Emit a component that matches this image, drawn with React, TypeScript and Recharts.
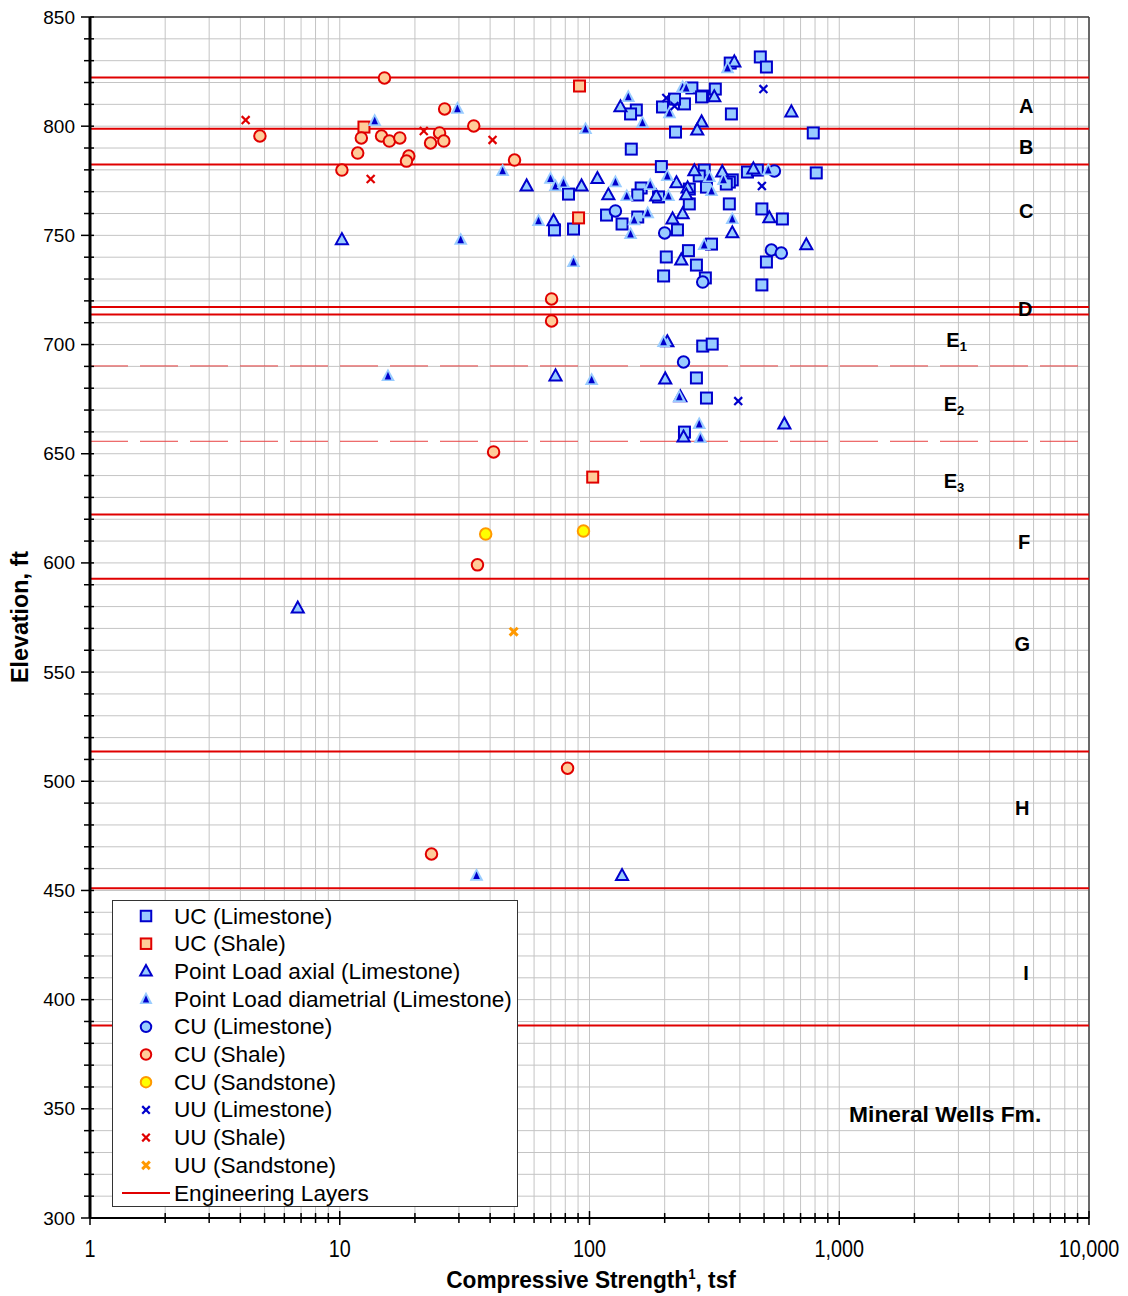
import React from 'react';
import {
  ScatterChart,
  Scatter,
  XAxis,
  YAxis,
  CartesianGrid,
  ReferenceLine,
  ReferenceDot,
} from 'recharts';

type Pt = { x: number; y: number };

// ---------- data (x: compressive strength, tsf; y: elevation, ft) ----------
const ucLimestone: Pt[] = [
  { x: 483, y: 831.7 }, { x: 511, y: 827.1 }, { x: 366, y: 828.9 }, { x: 319, y: 817.0 },
  { x: 284, y: 813.8 }, { x: 257, y: 817.5 }, { x: 281, y: 813.4 }, { x: 240, y: 810.2 },
  { x: 219, y: 812.4 }, { x: 196, y: 808.8 }, { x: 154, y: 807.4 }, { x: 146, y: 805.6 },
  { x: 370, y: 805.6 }, { x: 221, y: 797.3 }, { x: 787, y: 796.9 }, { x: 147, y: 789.5 },
  { x: 194, y: 781.5 }, { x: 809, y: 778.6 }, { x: 429, y: 779.0 }, { x: 470, y: 779.9 },
  { x: 288, y: 779.9 }, { x: 275, y: 777.2 }, { x: 373, y: 775.4 }, { x: 363, y: 774.4 },
  { x: 161, y: 771.7 }, { x: 82.4, y: 768.9 }, { x: 156, y: 768.5 }, { x: 189, y: 767.6 },
  { x: 251, y: 771.2 }, { x: 251, y: 764.4 }, { x: 294, y: 772.1 }, { x: 353, y: 773.5 },
  { x: 363, y: 764.4 }, { x: 117, y: 759.3 }, { x: 135, y: 755.2 }, { x: 156, y: 758.4 },
  { x: 225, y: 752.5 }, { x: 86.3, y: 752.9 }, { x: 72.4, y: 752.5 }, { x: 490, y: 762.1 },
  { x: 592, y: 757.5 }, { x: 203, y: 740.1 }, { x: 249, y: 743.0 }, { x: 268, y: 736.4 },
  { x: 198, y: 731.4 }, { x: 291, y: 730.5 }, { x: 308, y: 746.0 }, { x: 511, y: 737.8 },
  { x: 490, y: 727.3 }, { x: 284, y: 699.3 }, { x: 310, y: 700.2 }, { x: 268, y: 684.7 },
  { x: 294, y: 675.5 }, { x: 240, y: 659.9 },
];

const ucShale: Pt[] = [
  { x: 91.2, y: 818.4 }, { x: 12.5, y: 799.6 }, { x: 90.4, y: 758.0 }, { x: 103, y: 639.3 },
];

const plAxial: Pt[] = [
  { x: 10.2, y: 748.0 }, { x: 6.79, y: 579.3 }, { x: 56.0, y: 772.6 }, { x: 92.9, y: 772.6 },
  { x: 71.8, y: 756.6 }, { x: 133, y: 808.8 }, { x: 281, y: 801.9 }, { x: 270, y: 798.2 },
  { x: 316, y: 813.4 }, { x: 643, y: 806.5 }, { x: 107.6, y: 776.0 }, { x: 119, y: 768.5 },
  { x: 223, y: 774.0 }, { x: 247, y: 771.7 }, { x: 244, y: 768.5 }, { x: 185, y: 768.0 },
  { x: 263, y: 779.5 }, { x: 340, y: 779.0 }, { x: 453, y: 780.4 }, { x: 525, y: 758.0 },
  { x: 373, y: 751.1 }, { x: 236, y: 759.8 }, { x: 215, y: 757.5 }, { x: 233, y: 738.7 },
  { x: 738, y: 745.6 }, { x: 380, y: 829.4 }, { x: 201, y: 684.2 }, { x: 205, y: 701.2 },
  { x: 231, y: 676.0 }, { x: 238, y: 657.6 }, { x: 603, y: 663.6 }, { x: 73.1, y: 685.6 },
  { x: 135, y: 456.8 },
];

const plDiametrial: Pt[] = [
  { x: 13.8, y: 802.4 }, { x: 29.6, y: 808.0 }, { x: 44.9, y: 779.5 }, { x: 69.8, y: 776.0 },
  { x: 73.1, y: 772.6 }, { x: 78.7, y: 774.0 }, { x: 62.5, y: 756.6 }, { x: 30.5, y: 748.0 },
  { x: 86.3, y: 737.8 }, { x: 96.4, y: 798.7 }, { x: 143, y: 813.4 }, { x: 163, y: 801.5 },
  { x: 209, y: 806.0 }, { x: 236, y: 817.9 }, { x: 357, y: 826.6 }, { x: 127, y: 774.4 },
  { x: 141, y: 768.0 }, { x: 175, y: 773.1 }, { x: 205, y: 777.2 }, { x: 207, y: 768.0 },
  { x: 302, y: 776.7 }, { x: 308, y: 770.3 }, { x: 344, y: 775.4 }, { x: 373, y: 757.5 },
  { x: 151, y: 757.0 }, { x: 146, y: 750.6 }, { x: 171, y: 760.2 }, { x: 288, y: 745.6 },
  { x: 520, y: 779.9 }, { x: 244, y: 817.5 }, { x: 198, y: 701.2 }, { x: 102, y: 683.8 },
  { x: 229, y: 676.0 }, { x: 275, y: 663.6 }, { x: 278, y: 657.2 }, { x: 15.6, y: 685.6 },
  { x: 35.3, y: 456.8 },
];

const cuLimestone: Pt[] = [
  { x: 550, y: 779.5 }, { x: 127, y: 761.2 }, { x: 200, y: 751.1 }, { x: 535, y: 743.3 },
  { x: 586, y: 741.9 }, { x: 284, y: 728.6 }, { x: 238, y: 692.0 },
];

const cuShale: Pt[] = [
  { x: 15.1, y: 822.1 }, { x: 4.79, y: 795.5 }, { x: 10.2, y: 779.9 }, { x: 11.8, y: 787.7 },
  { x: 12.2, y: 794.6 }, { x: 14.7, y: 795.5 }, { x: 15.8, y: 793.2 }, { x: 17.4, y: 794.6 },
  { x: 18.9, y: 786.3 }, { x: 18.5, y: 784.0 }, { x: 23.1, y: 792.3 }, { x: 25.1, y: 796.9 },
  { x: 26.3, y: 807.9 }, { x: 26.1, y: 793.2 }, { x: 34.4, y: 800.1 }, { x: 50.1, y: 784.5 },
  { x: 70.5, y: 720.9 }, { x: 70.5, y: 710.8 }, { x: 41.3, y: 650.8 }, { x: 35.6, y: 599.1 },
  { x: 81.7, y: 506.0 }, { x: 23.3, y: 466.7 },
];

const cuSandstone: Pt[] = [
  { x: 38.4, y: 613.2 }, { x: 94.6, y: 614.6 },
];

const uuLimestone: Pt[] = [
  { x: 203, y: 812.9 }, { x: 219, y: 809.2 }, { x: 497, y: 817.0 }, { x: 490, y: 772.6 },
  { x: 394, y: 674.1 },
];

const uuShale: Pt[] = [
  { x: 4.2, y: 802.8 }, { x: 13.3, y: 775.8 }, { x: 21.7, y: 797.8 }, { x: 40.9, y: 793.7 },
];

const uuSandstone: Pt[] = [{ x: 49.7, y: 568.5 }];

const layerSolid: number[] = [822.3, 798.8, 782.4, 717.2, 713.8, 622.2, 592.8, 513.6, 451.0, 388.2];
const layerDashed: number[] = [690.2, 655.7];

const layerLabels = [
  { text: 'A', sub: '', x: 5600, y: 809.2 },
  { text: 'B', sub: '', x: 5600, y: 790.5 },
  { text: 'C', sub: '', x: 5600, y: 761.2 },
  { text: 'D', sub: '', x: 5550, y: 716.3 },
  { text: 'E', sub: '1', x: 2950, y: 702.0 },
  { text: 'E', sub: '2', x: 2880, y: 673.0 },
  { text: 'E', sub: '3', x: 2880, y: 637.5 },
  { text: 'F', sub: '', x: 5500, y: 609.6 },
  { text: 'G', sub: '', x: 5400, y: 562.9 },
  { text: 'H', sub: '', x: 5400, y: 487.7 },
  { text: 'I', sub: '', x: 5600, y: 412.0 },
];

const formationLabel = { text: 'Mineral Wells Fm.', x: 2655, y: 347.6 };

const xTicks: number[] = [
  1, 2, 3, 4, 5, 6, 7, 8, 9,
  10, 20, 30, 40, 50, 60, 70, 80, 90,
  100, 200, 300, 400, 500, 600, 700, 800, 900,
  1000, 2000, 3000, 4000, 5000, 6000, 7000, 8000, 9000,
  10000,
];
const xTickLabels: Record<number, string> = { 1: '1', 10: '10', 100: '100', 1000: '1,000', 10000: '10,000' };

const yTicks: number[] = [
  300, 310, 320, 330, 340, 350, 360, 370, 380, 390,
  400, 410, 420, 430, 440, 450, 460, 470, 480, 490,
  500, 510, 520, 530, 540, 550, 560, 570, 580, 590,
  600, 610, 620, 630, 640, 650, 660, 670, 680, 690,
  700, 710, 720, 730, 740, 750, 760, 770, 780, 790,
  800, 810, 820, 830, 840, 850,
];
const yTickLabels: number[] = [300, 350, 400, 450, 500, 550, 600, 650, 700, 750, 800, 850];

const legendItems = [
  { kind: 'sqBlue', label: 'UC (Limestone)' },
  { kind: 'sqRed', label: 'UC (Shale)' },
  { kind: 'triAxial', label: 'Point Load axial (Limestone)' },
  { kind: 'triDiam', label: 'Point Load diametrial (Limestone)' },
  { kind: 'circBlue', label: 'CU (Limestone)' },
  { kind: 'circRed', label: 'CU (Shale)' },
  { kind: 'circYellow', label: 'CU (Sandstone)' },
  { kind: 'xBlue', label: 'UU (Limestone)' },
  { kind: 'xRed', label: 'UU (Shale)' },
  { kind: 'xOrange', label: 'UU (Sandstone)' },
  { kind: 'line', label: 'Engineering Layers' },
];

// ---------- styles ----------
const BLUE = '#0000cc';
const LBLUE = '#99ccff';
const RED = '#e00000';
const PEACH = '#ffcc99';
const YELLOW = '#ffff00';
const ORANGE = '#ff9900';
const SANS = '"Liberation Sans", Arial, sans-serif';

function marker(kind: string, cx: number, cy: number, s: number) {
  switch (kind) {
    case 'sqBlue':
      return <rect x={cx - s / 2} y={cy - s / 2} width={s} height={s} fill={LBLUE} stroke={BLUE} strokeWidth={2} />;
    case 'sqRed':
      return <rect x={cx - s / 2} y={cy - s / 2} width={s} height={s} fill={PEACH} stroke={RED} strokeWidth={2} />;
    case 'triAxial': {
      const w = s * 1.1;
      const h = s;
      return (
        <polygon
          points={`${cx},${cy - h * 0.6} ${cx - w / 2},${cy + h * 0.4} ${cx + w / 2},${cy + h * 0.4}`}
          fill={LBLUE}
          stroke={BLUE}
          strokeWidth={2}
          strokeLinejoin="miter"
        />
      );
    }
    case 'triDiam': {
      const w = s * 1.25;
      const h = s * 1.15;
      const w2 = s * 0.6;
      const h2 = s * 0.55;
      return (
        <g>
          <polygon
            points={`${cx},${cy - h * 0.6} ${cx - w / 2},${cy + h * 0.4} ${cx + w / 2},${cy + h * 0.4}`}
            fill={LBLUE}
          />
          <polygon
            points={`${cx},${cy - h2 * 0.6 - 0.5} ${cx - w2 / 2},${cy + h2 * 0.4 + 1} ${cx + w2 / 2},${cy + h2 * 0.4 + 1}`}
            fill={BLUE}
          />
        </g>
      );
    }
    case 'circBlue':
      return <circle cx={cx} cy={cy} r={s / 2} fill={LBLUE} stroke={BLUE} strokeWidth={2} />;
    case 'circRed':
      return <circle cx={cx} cy={cy} r={s / 2} fill={PEACH} stroke={RED} strokeWidth={2} />;
    case 'circYellow':
      return <circle cx={cx} cy={cy} r={s / 2} fill={YELLOW} stroke={ORANGE} strokeWidth={2} />;
    case 'xBlue':
    case 'xRed':
    case 'xOrange': {
      const c = kind === 'xBlue' ? BLUE : kind === 'xRed' ? RED : ORANGE;
      const d = s * 0.36;
      return (
        <g stroke={c} strokeWidth={kind === 'xOrange' ? 3 : 2.2}>
          <line x1={cx - d} y1={cy - d} x2={cx + d} y2={cy + d} />
          <line x1={cx - d} y1={cy + d} x2={cx + d} y2={cy - d} />
        </g>
      );
    }
    default:
      return null;
  }
}

const shapeOf = (kind: string, s: number) => (props: any) => {
  const { cx, cy } = props;
  if (cx == null || cy == null) return <g />;
  return marker(kind, cx, cy, s);
};

const XTick = (props: any) => {
  const { x, y, payload } = props;
  const v = payload.value as number;
  const label = xTickLabels[v];
  const major = label !== undefined;
  return (
    <g>
      <line x1={x} x2={x} y1={y - (major ? 7 : 5)} y2={y + (major ? 7 : 5)} stroke="#000" strokeWidth={1.5} />
      {major && (
        <text
          transform={`translate(${x},${y + 31}) scale(0.86,1)`}
          x={0}
          y={0}
          textAnchor="middle"
          dominantBaseline="central"
          fontFamily={SANS}
          fontSize={23}
          fill="#000"
        >
          {label}
        </text>
      )}
    </g>
  );
};

const YTick = (props: any) => {
  const { x, y, payload } = props;
  const v = payload.value as number;
  const major = yTickLabels.includes(v);
  return (
    <g>
      <line x1={x - (major ? 9 : 6)} x2={x + 4} y1={y} y2={y} stroke="#000" strokeWidth={1.5} />
      {major && (
        <text x={x - 15} y={y} textAnchor="end" dominantBaseline="central" fontFamily={SANS} fontSize={19} fill="#000">
          {v}
        </text>
      )}
    </g>
  );
};

const layerLabelShape = (text: string, sub: string) => (props: any) => {
  const { cx, cy } = props;
  return (
    <text x={cx} y={cy} textAnchor="middle" dominantBaseline="central" fontFamily={SANS} fontWeight="bold" fontSize={20} fill="#000">
      <tspan>{text}</tspan>
      {sub && (
        <tspan fontSize={13} dy={6}>
          {sub}
        </tspan>
      )}
    </text>
  );
};

const formationShape = (props: any) => {
  const { cx, cy } = props;
  return (
    <text x={cx} y={cy} textAnchor="middle" dominantBaseline="central" fontFamily={SANS} fontWeight="bold" fontSize={22.8} fill="#000">
      {formationLabel.text}
    </text>
  );
};

const LegendBox = () => {
  const w = 406;
  const h = 307;
  const rowH = 27.7;
  return (
    <div style={{ position: 'absolute', left: 112, top: 900, width: w, height: h }}>
      <svg width={w} height={h}>
        <rect x={0.5} y={0.5} width={w - 1} height={h - 1} fill="#fff" stroke="#333" strokeWidth={1} />
        {legendItems.map((it, i) => {
          const cy = 16 + i * rowH;
          return (
            <g key={it.label}>
              {it.kind === 'line' ? (
                <line x1={10} x2={58} y1={cy} y2={cy} stroke={RED} strokeWidth={2} />
              ) : (
                marker(it.kind, 34, cy, 10.5)
              )}
              <text x={62} y={cy} dominantBaseline="central" fontFamily={SANS} fontSize={22.6} fill="#000">
                {it.label}
              </text>
            </g>
          );
        })}
      </svg>
    </div>
  );
};

export default function App() {
  return (
    <div style={{ position: 'absolute', left: 0, top: 0, width: 1128, height: 1296, background: '#fff' }}>
      <ScatterChart width={1128} height={1296} margin={{ top: 17, right: 39, left: 0, bottom: 0 }}>
        <CartesianGrid stroke="#c4c4c4" strokeWidth={1} />
        <XAxis
          dataKey="x"
          type="number"
          scale="log"
          domain={[1, 10000]}
          ticks={xTicks}
          interval={0}
          allowDataOverflow
          height={78}
          tickSize={0}
          tickMargin={0}
          tickLine={false}
          axisLine={{ stroke: '#000', strokeWidth: 2 }}
          tick={<XTick />}
        />
        <YAxis
          dataKey="y"
          type="number"
          domain={[300, 850]}
          ticks={yTicks}
          interval={0}
          allowDataOverflow
          width={90}
          tickSize={0}
          tickMargin={0}
          tickLine={false}
          axisLine={{ stroke: '#000', strokeWidth: 3 }}
          tick={<YTick />}
        />
        <ReferenceLine y={850} stroke="#404040" strokeWidth={1.5} />
        <ReferenceLine x={10000} stroke="#404040" strokeWidth={1.5} />
        {layerSolid.map((v) => (
          <ReferenceLine key={'s' + v} y={v} stroke={RED} strokeWidth={2} />
        ))}
        {layerDashed.map((v) => (
          <ReferenceLine key={'d' + v} y={v} stroke="#e84040" strokeWidth={1} strokeDasharray="38 12" />
        ))}
        <Scatter data={ucLimestone} shape={shapeOf('sqBlue', 11)} isAnimationActive={false} />
        <Scatter data={ucShale} shape={shapeOf('sqRed', 11)} isAnimationActive={false} />
        <Scatter data={cuLimestone} shape={shapeOf('circBlue', 11.5)} isAnimationActive={false} />
        <Scatter data={cuShale} shape={shapeOf('circRed', 11.5)} isAnimationActive={false} />
        <Scatter data={cuSandstone} shape={shapeOf('circYellow', 11.5)} isAnimationActive={false} />
        <Scatter data={plAxial} shape={shapeOf('triAxial', 11)} isAnimationActive={false} />
        <Scatter data={plDiametrial} shape={shapeOf('triDiam', 11)} isAnimationActive={false} />
        <Scatter data={uuLimestone} shape={shapeOf('xBlue', 11)} isAnimationActive={false} />
        <Scatter data={uuShale} shape={shapeOf('xRed', 11)} isAnimationActive={false} />
        <Scatter data={uuSandstone} shape={shapeOf('xOrange', 11)} isAnimationActive={false} />
        {layerLabels.map((l) => (
          <ReferenceDot
            key={l.text + l.sub}
            x={l.x}
            y={l.y}
            r={0}
            ifOverflow="visible"
            shape={layerLabelShape(l.text, l.sub)}
          />
        ))}
        <ReferenceDot x={formationLabel.x} y={formationLabel.y} r={0} ifOverflow="visible" shape={formationShape} />
      </ScatterChart>
      <LegendBox />
      <div
        style={{
          position: 'absolute',
          left: 591,
          top: 1279,
          transform: 'translate(-50%, -50%) scaleX(0.945)',
          fontFamily: SANS,
          fontWeight: 'bold',
          fontSize: 24,
          whiteSpace: 'nowrap',
          color: '#000',
          lineHeight: 1,
        }}
      >
        Compressive Strength<sup style={{ fontSize: 14 }}>1</sup>, tsf
      </div>
      <div
        style={{
          position: 'absolute',
          left: 20,
          top: 617,
          transform: 'translate(-50%, -50%) rotate(-90deg) scaleX(0.97)',
          fontFamily: SANS,
          fontWeight: 'bold',
          fontSize: 24,
          whiteSpace: 'nowrap',
          color: '#000',
          lineHeight: 1,
        }}
      >
        Elevation, ft
      </div>
    </div>
  );
}
